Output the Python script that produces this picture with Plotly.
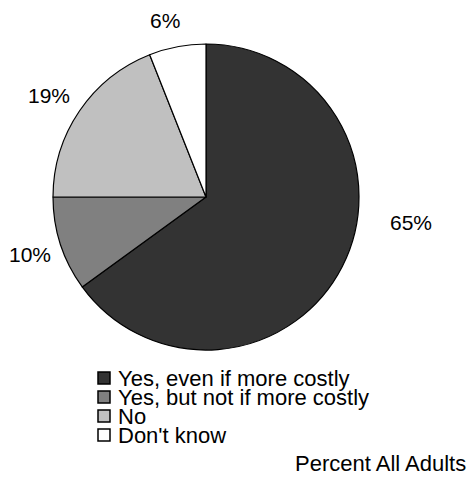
import plotly.graph_objects as go

categories = ["Yes, even if more costly", "Yes, but not if more costly", "No", "Don't know"]
values = [65, 10, 19, 6]
colors = ["#333333", "#808080", "#c0c0c0", "#ffffff"]
footer_text = "Percent All Adults"

W, H = 469, 479
FONT = "Arial, Liberation Sans, sans-serif"
FS = 21
FS_LEG = 22

def px(x):
    return x / W

def py(y):
    return 1 - y / H

fig = go.Figure()
fig.add_trace(go.Pie(
    labels=categories,
    values=values,
    sort=False,
    direction="clockwise",
    rotation=0,
    marker=dict(colors=colors, line=dict(color="#000000", width=1.2)),
    textinfo="none",
    hoverinfo="label+percent",
    showlegend=False,
    domain=dict(x=[px(53), px(359)], y=[py(350), py(44)]),
))

# outside percentage labels (pixel positions of label centres)
label_pos = [(411, 222), (30, 255), (49, 96), (165, 20)]
annotations = []
for v, (lx, ly) in zip(values, label_pos):
    annotations.append(dict(
        x=px(lx), y=py(ly), xref="paper", yref="paper",
        text=f"{v}%", showarrow=False, xanchor="center", yanchor="middle",
        font=dict(family=FONT, size=FS, color="#000000"),
    ))

# legend drawn manually (tight line spacing as in reference)
shapes = []
row_y = [378, 397, 416, 435]
for cat, col, ry in zip(categories, colors, row_y):
    shapes.append(dict(
        type="rect", xref="paper", yref="paper",
        x0=px(98), x1=px(110), y0=py(ry + 6), y1=py(ry - 6),
        fillcolor=col, line=dict(color="#000000", width=1.5),
    ))
    annotations.append(dict(
        x=px(116), y=py(ry), xref="paper", yref="paper",
        text=cat, showarrow=False, xanchor="left", yanchor="middle",
        font=dict(family=FONT, size=FS_LEG, color="#000000"),
    ))

annotations.append(dict(
    x=px(468), y=py(463), xref="paper", yref="paper",
    text=footer_text, showarrow=False, xanchor="right", yanchor="middle",
    font=dict(family=FONT, size=FS_LEG, color="#000000"),
))

fig.update_layout(
    width=W, height=H,
    margin=dict(l=0, r=0, t=0, b=0),
    paper_bgcolor="#ffffff",
    plot_bgcolor="#ffffff",
    annotations=annotations,
    shapes=shapes,
    font=dict(family=FONT, size=FS),
)

fig.write_html(
    "out.html",
    config={"displayModeBar": False},
    post_script="document.body.style.margin='0';document.body.style.overflow='hidden';",
)
